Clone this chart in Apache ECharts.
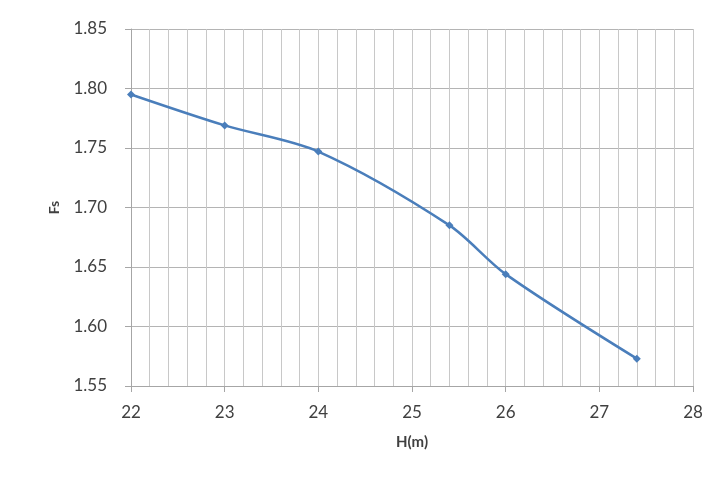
<!DOCTYPE html>
<html><head><meta charset="utf-8">
<script src="https://cdn.jsdelivr.net/npm/echarts@6/dist/echarts.min.js"></script>
<style>html,body{margin:0;padding:0;background:#fff}#c{width:726px;height:477px}</style>
</head><body><div id="c"></div>
<script>
const hValues = [22, 23, 24, 25.4, 26, 27.4];
const fsValues = [1.795, 1.769, 1.747, 1.685, 1.644, 1.573];
const xName = 'H(m)';
const yName = 'Fs';

const chart = echarts.init(document.getElementById('c'));
const font = 'Lato, "Open Sans", sans-serif';
chart.setOption({
  animation: false,
  grid: {left: 131, right: 33, top: 29, bottom: 91},
  xAxis: {
    type: 'value', min: 22, max: 28, interval: 1,
    name: xName, nameLocation: 'middle', nameGap: 49,
    nameTextStyle: {fontFamily: font, fontSize: 15, fontWeight: 'bold', color: '#404040'},
    axisLine: {lineStyle: {color: '#a6a6a6'}},
    axisTick: {show: true, length: 6, lineStyle: {color: '#a6a6a6'}},
    minorTick: {show: false, splitNumber: 5},
    axisLabel: {fontFamily: font, fontSize: 17, color: '#404040', margin: 18},
    splitLine: {show: true, lineStyle: {color: '#c8c8c8'}},
    minorSplitLine: {show: true, lineStyle: {color: '#c8c8c8'}}
  },
  yAxis: {
    type: 'value', min: 1.55, max: 1.85, interval: 0.05,
    name: yName, nameLocation: 'middle', nameGap: 70, nameRotate: 90,
    nameTextStyle: {fontFamily: font, fontSize: 14, fontWeight: 'bold', color: '#404040'},
    axisLine: {show: true, lineStyle: {color: '#a6a6a6'}},
    axisTick: {show: true, length: 6, lineStyle: {color: '#a6a6a6'}},
    axisLabel: {fontFamily: font, fontSize: 17, color: '#404040', margin: 24,
      formatter: v => v.toFixed(2)},
    splitLine: {show: true, lineStyle: {color: '#b4b4b4'}}
  },
  series: [{
    type: 'line', smooth: 0.3,
    data: hValues.map((h, i) => [h, fsValues[i]]),
    symbol: 'diamond', symbolSize: 8,
    lineStyle: {color: '#4a7ebb', width: 2.5},
    itemStyle: {color: '#4a7ebb'}
  }]
});
</script></body></html>
